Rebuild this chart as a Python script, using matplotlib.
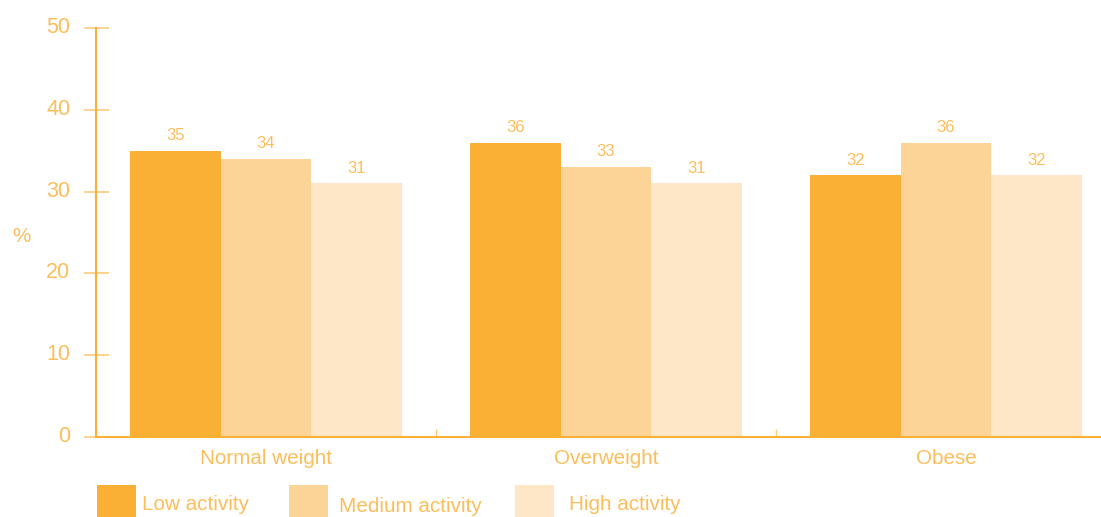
import matplotlib
matplotlib.use("Agg")
import matplotlib.pyplot as plt
from matplotlib.patches import Rectangle
from matplotlib.transforms import ScaledTranslation
import numpy as np

categories = ["Normal weight", "Overweight", "Obese"]
series_names = ["Low activity", "Medium activity", "High activity"]
low_activity = [35, 36, 32]
medium_activity = [34, 33, 36]
high_activity = [31, 31, 32]
y_ticks = [0, 10, 20, 30, 40, 50]

series_values = [low_activity, medium_activity, high_activity]
colors = ["#F9B034", "#FCD498", "#FEE7C6"]
text_color = "#FBBE5B"
axis_color = "#F9B034"
tick_color = "#FCCB7E"

plt.rcParams["font.family"] = ["Liberation Sans", "DejaVu Sans"]

W, H = 1101, 517
fig = plt.figure(figsize=(W / 100, H / 100), dpi=100)
ax = fig.add_axes([96 / W, 1 - 437 / H, 1020 / W, 409 / H])

x = np.arange(len(categories))
bw = 0.8 / 3
for i, (vals, c) in enumerate(zip(series_values, colors)):
    bars = ax.bar(x + (i - 1) * bw, vals, width=bw, color=c, linewidth=0, zorder=2)
    ax.bar_label(bars, labels=[str(v) for v in vals], padding=5.5,
                 color=text_color, fontsize=12)

ax.set_xlim(-0.5, 2.5)
ax.set_ylim(0, 50)
ax.set_yticks(y_ticks)
ax.set_xticks(x)
ax.set_xticklabels(categories)
ax.set_xticks([-0.5, 0.5, 1.5, 2.5], minor=True)

for s in ["top", "right"]:
    ax.spines[s].set_visible(False)
ax.spines["left"].set_color(axis_color)
ax.spines["left"].set_linewidth(1.5)
ax.spines["bottom"].set_color(axis_color)
ax.spines["bottom"].set_linewidth(1.5)
ax.spines["bottom"].set_zorder(3)

ax.tick_params(axis="y", direction="inout", length=18, width=1.2, color=tick_color,
               labelcolor=text_color, labelsize=15.5, pad=9.5)
ax.tick_params(axis="x", which="major", length=0, labelcolor=text_color,
               labelsize=14.9, pad=9)
ax.tick_params(axis="x", which="minor", direction="in", length=6, width=1.0,
               color=tick_color)

# reference tick labels sit slightly above their ticks
up = ScaledTranslation(0, 3 / 100, fig.dpi_scale_trans)
for lab in ax.get_yticklabels():
    lab.set_transform(lab.get_transform() + up)

ax.set_ylabel("%", rotation=0, color=text_color, fontsize=14.9, va="center", ha="center")
ax.yaxis.set_label_coords(-0.0735, 0.49)

# legend
leg_x = [97, 289, 515]
txt_x = [142, 339, 569]
txt_y = [505, 507, 505]
for name, c, lx, tx, ty in zip(series_names, colors, leg_x, txt_x, txt_y):
    fig.add_artist(Rectangle((lx / W, 1 - 524 / H), 39 / W, 39 / H,
                             transform=fig.transFigure, color=c, linewidth=0))
    fig.text(tx / W, 1 - ty / H, name, color=text_color, fontsize=14.9,
             ha="left", va="center")

fig.savefig("out.png", dpi=100)
